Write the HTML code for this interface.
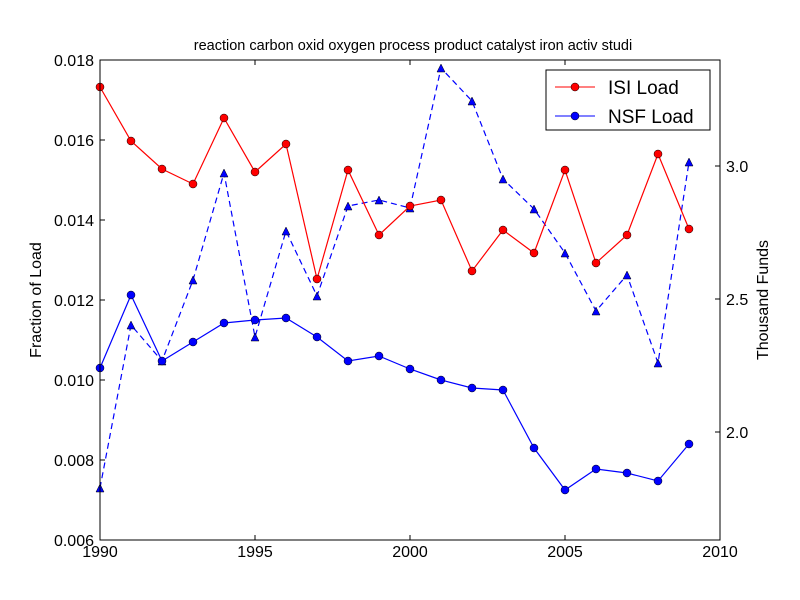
<!DOCTYPE html>
<html><head><meta charset="utf-8"><style>body{margin:0;background:#fff}svg{display:block}text{font-family:"Liberation Sans",sans-serif}</style></head><body>
<svg width="800" height="600" xmlns="http://www.w3.org/2000/svg">
<rect width="800" height="600" fill="#fff"/>
<text x="413" y="50" font-size="14.5" text-anchor="middle">reaction carbon oxid oxygen process product catalyst iron activ studi</text>
<g fill="none" stroke-width="1.2">
<polyline stroke="#00f" stroke-dasharray="6,4" points="100,488 131,325 162,361 193,280 224,173 255,337 286,231 317,296 348,206 379,200 410,208 441,68 472,101 503,179 534,209 565,253 596,311 627,275 658,363 689,162"/>
<polyline stroke="#f00" points="100,87 131,141 162,169 193,184 224,118 255,172 286,144 317,279 348,170 379,235 410,206 441,200 472,271 503,230 534,253 565,170 596,263 627,235 658,154 689,229"/>
<polyline stroke="#00f" points="100,368 131,295 162,361 193,342 224,323 255,320 286,318 317,337 348,361 379,356 410,369 441,380 472,388 503,390 534,448 565,490 596,469 627,473 658,481 689,444"/>
</g>
<g fill="#00f" stroke="#000" stroke-width="0.5">
<polygon points="100,484 104,492 96,492"/><polygon points="131,321 135,329 127,329"/><polygon points="162,357 166,365 158,365"/><polygon points="193,276 197,284 189,284"/><polygon points="224,169 228,177 220,177"/><polygon points="255,333 259,341 251,341"/><polygon points="286,227 290,235 282,235"/><polygon points="317,292 321,300 313,300"/><polygon points="348,202 352,210 344,210"/><polygon points="379,196 383,204 375,204"/><polygon points="410,204 414,212 406,212"/><polygon points="441,64 445,72 437,72"/><polygon points="472,97 476,105 468,105"/><polygon points="503,175 507,183 499,183"/><polygon points="534,205 538,213 530,213"/><polygon points="565,249 569,257 561,257"/><polygon points="596,307 600,315 592,315"/><polygon points="627,271 631,279 623,279"/><polygon points="658,359 662,367 654,367"/><polygon points="689,158 693,166 685,166"/>
</g>
<g fill="#f00" stroke="#000" stroke-width="0.5">
<circle cx="100" cy="87" r="4"/><circle cx="131" cy="141" r="4"/><circle cx="162" cy="169" r="4"/><circle cx="193" cy="184" r="4"/><circle cx="224" cy="118" r="4"/><circle cx="255" cy="172" r="4"/><circle cx="286" cy="144" r="4"/><circle cx="317" cy="279" r="4"/><circle cx="348" cy="170" r="4"/><circle cx="379" cy="235" r="4"/><circle cx="410" cy="206" r="4"/><circle cx="441" cy="200" r="4"/><circle cx="472" cy="271" r="4"/><circle cx="503" cy="230" r="4"/><circle cx="534" cy="253" r="4"/><circle cx="565" cy="170" r="4"/><circle cx="596" cy="263" r="4"/><circle cx="627" cy="235" r="4"/><circle cx="658" cy="154" r="4"/><circle cx="689" cy="229" r="4"/>
</g>
<g fill="#00f" stroke="#000" stroke-width="0.5">
<circle cx="100" cy="368" r="4"/><circle cx="131" cy="295" r="4"/><circle cx="162" cy="361" r="4"/><circle cx="193" cy="342" r="4"/><circle cx="224" cy="323" r="4"/><circle cx="255" cy="320" r="4"/><circle cx="286" cy="318" r="4"/><circle cx="317" cy="337" r="4"/><circle cx="348" cy="361" r="4"/><circle cx="379" cy="356" r="4"/><circle cx="410" cy="369" r="4"/><circle cx="441" cy="380" r="4"/><circle cx="472" cy="388" r="4"/><circle cx="503" cy="390" r="4"/><circle cx="534" cy="448" r="4"/><circle cx="565" cy="490" r="4"/><circle cx="596" cy="469" r="4"/><circle cx="627" cy="473" r="4"/><circle cx="658" cy="481" r="4"/><circle cx="689" cy="444" r="4"/>
</g>
<rect x="100" y="60" width="620" height="480" fill="none" stroke="#000" stroke-width="1"/>
<g stroke="#000" stroke-width="1">
<path d="M255,540v-5M410,540v-5M565,540v-5M255,60v5M410,60v5M565,60v5"/>
<path d="M100,460h5M100,380h5M100,300h5M100,220h5M100,140h5"/>
<path d="M720,432h-5M720,299h-5M720,166h-5"/>
</g>
<g font-size="16" text-anchor="middle">
<text x="100" y="557">1990</text><text x="255" y="557">1995</text><text x="410" y="557">2000</text><text x="565" y="557">2005</text><text x="720" y="557">2010</text>
</g>
<g font-size="16" text-anchor="end">
<text x="94" y="546">0.006</text><text x="94" y="466">0.008</text><text x="94" y="386">0.010</text><text x="94" y="306">0.012</text><text x="94" y="226">0.014</text><text x="94" y="146">0.016</text><text x="94" y="66">0.018</text>
</g>
<g font-size="16">
<text x="726" y="438">2.0</text><text x="726" y="305">2.5</text><text x="726" y="172">3.0</text>
</g>
<text transform="translate(41,300) rotate(-90)" font-size="16" text-anchor="middle">Fraction of Load</text>
<text transform="translate(768,300) rotate(-90)" font-size="16" text-anchor="middle">Thousand Funds</text>
<rect x="546" y="70" width="164" height="60" fill="#fff" stroke="#000"/>
<line x1="555" y1="87" x2="595" y2="87" stroke="#f00"/><circle cx="575" cy="87" r="4" fill="#f00" stroke="#000" stroke-width="0.5"/>
<line x1="555" y1="116" x2="595" y2="116" stroke="#00f"/><circle cx="575" cy="116" r="4" fill="#00f" stroke="#000" stroke-width="0.5"/>
<text x="608" y="94" font-size="19">ISI Load</text>
<text x="608" y="123" font-size="19">NSF Load</text>
</svg>
</body></html>
